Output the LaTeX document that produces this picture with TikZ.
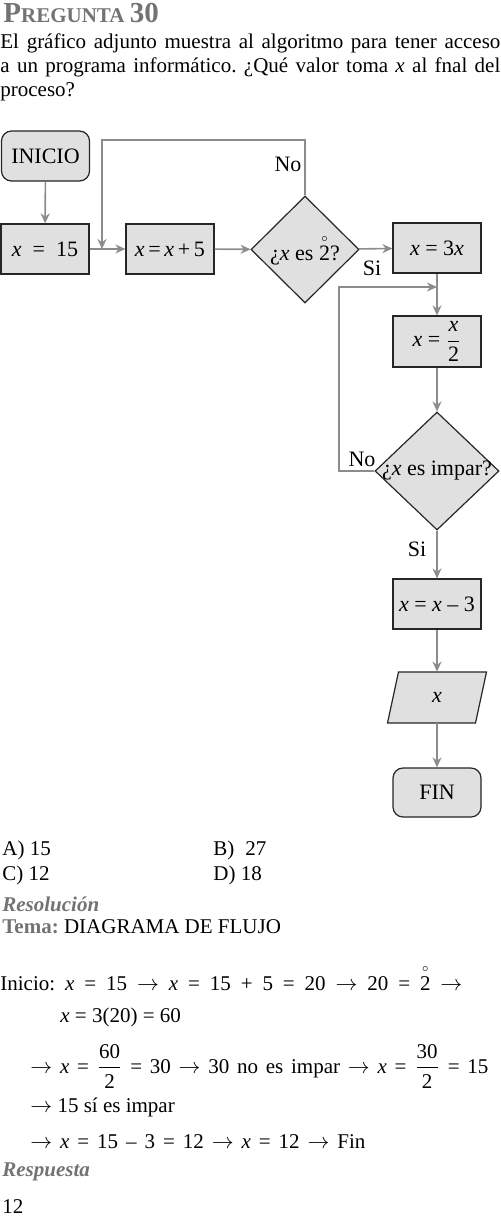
\documentclass[tikz,border=0pt]{standalone}
\usepackage{amsmath}
\usepackage{fontspec}
\setmainfont{Liberation Serif}
\usetikzlibrary{shapes.geometric,arrows.meta,positioning}

\frenchspacing
\newcommand{\vx}{\textit{x}}
\newcommand{\anillo}{$\overset{\scriptscriptstyle\circ}{\text{2}}$}

\tikzset{
  linea/.style={anchor=base west, inner sep=0pt},
  marco/.style={draw=black!85, fill=black!12, line width=0.6pt},
  caja/.style={marco, inner sep=0pt, minimum width=44pt, minimum height=25pt,
    font=\fontsize{11pt}{13pt}\selectfont},
  term/.style={caja, rounded corners=5pt},
  rombo/.style={caja, diamond},
  datos/.style={inner sep=0pt, minimum width=44pt, minimum height=25.5pt,
    font=\fontsize{11pt}{13pt}\selectfont},
  flecha/.style={draw=black!45, line width=0.8pt, -{Stealth[length=5pt,width=4.5pt]}},
  etiq/.style={inner sep=1pt, font=\fontsize{11pt}{13pt}\selectfont},
  gris/.style={text=black!55}
}

\begin{document}
\begin{tikzpicture}[x=0.5pt, y=-0.5pt, font=\fontsize{10.5pt}{12pt}\selectfont]
  \useasboundingbox (0,0) rectangle (500,1222);

  % Enunciado
  \node[linea, gris] (titulo) at (3,22) {\bfseries\fontsize{14.5pt}{16pt}\selectfont P\fontsize{10.5pt}{12pt}\selectfont REGUNTA \fontsize{14.5pt}{16pt}\selectfont 30};
  \node[linea] (enun1) at (0,48) {\makebox[250pt][s]{El gráfico adjunto muestra al algoritmo para tener acceso}};
  \node[linea] (enun2) at (0,72) {\makebox[250pt][s]{a un programa informático. ¿Qué valor toma \vx{} al fnal del}};
  \node[linea] (enun3) at (0,96) {proceso?};

  % Diagrama
  \node[term] (inicio) at (45.5,156) {INICIO};
  \node[caja] (quince) at (45,249) {\vx\enspace=\enspace15};
  \node[caja] (suma) at (170,249) {\vx\,=\,\vx\,+\,5};
  \node[rombo, minimum width=54pt, minimum height=53.5pt] (par) at (305,249.5) {¿\vx{} es \anillo?};
  \node[caja] (triple) at (437,248) {\vx{} = 3\vx};
  \node[caja, minimum height=25.5pt] (mitad) at (437,341.5) {\vx{} = $\dfrac{\text{\vx}}{\text{2}}$};
  \node[rombo, minimum width=62pt, minimum height=59pt] (impar) at (437,471) {\makebox[0pt]{¿\vx{} es impar?}};
  \node[caja] (resta) at (437,604) {\vx{} = \vx{} – 3};
  \filldraw[marco] (387.5,723) -- (398.5,672) -- (486.5,672) -- (475.5,723) -- cycle;
  \node[datos] (salida) at (437,697.5) {\vx};
  \node[term, minimum height=24.5pt] (fin) at (437,792.5) {FIN};

  % Puntos de retorno
  \coordinate (arriba) at (102,140);
  \coordinate (junta) at (102,249);
  \coordinate (vuelta) at (339,287);
  \coordinate (junta2) at (437,287);

  % Flechas
  \draw[flecha] (inicio) -- (quince);
  \draw[flecha] (quince) -- (suma);
  \draw[flecha] (suma) -- (par);
  \draw[flecha] (par) -- (triple);
  \draw[flecha] (par.north) |- (arriba) -- (junta);
  \draw[flecha] (triple) -- (mitad);
  \draw[flecha] (mitad) -- (impar);
  \draw[flecha] (impar.west) -| (vuelta) -- (junta2);
  \draw[flecha] (impar) -- (resta);
  \draw[flecha] (resta) -- (salida);
  \draw[flecha] (salida) -- (fin);

  % Etiquetas
  \node[etiq] (no1) at (288,164) {No};
  \node[etiq] (si1) at (372,268) {Si};
  \node[etiq] (no2) at (362,459) {No};
  \node[etiq] (si2) at (417,549) {Si};

  % Alternativas
  \node[linea] (altA) at (2,855) {A) 15};
  \node[linea] (altB) at (213,855) {B)\; 27};
  \node[linea] (altC) at (2,880) {C) 12};
  \node[linea] (altD) at (213,880) {D) 18};

  % Resolucion
  \node[linea, gris] (resol) at (2,911) {\bfseries\itshape Resolución};
  \node[linea] (tema) at (2,933) {\textcolor{black!55}{\bfseries Tema:} DIAGRAMA DE FLUJO};
  \node[linea] (paso1) at (0,990) {\makebox[231pt][s]{Inicio: \vx{} = 15 $\rightarrow$ \vx{} = 15 + 5 = 20 $\rightarrow$ 20 = \anillo{} $\rightarrow$}};
  \node[linea] (paso2) at (60,1022) {\vx{} = 3(20) = 60};
  \node[linea] (paso3) at (30,1073) {\makebox[229pt][s]{$\rightarrow$ \vx{} = $\dfrac{\text{60}}{\text{2}}$ = 30 $\rightarrow$ 30 no es impar $\rightarrow$ \vx{} = $\dfrac{\text{30}}{\text{2}}$ = 15}};
  \node[linea] (paso4) at (30,1112) {$\rightarrow$ 15 sí es impar};
  \node[linea] (paso5) at (30,1148) {\makebox[167.5pt][s]{$\rightarrow$ \vx{} = 15 – 3 = 12 $\rightarrow$ \vx{} = 12 $\rightarrow$ Fin}};
  \node[linea, gris] (resp) at (2,1176) {\bfseries\itshape Respuesta};
  \node[linea] (final) at (2,1213) {12};

\end{tikzpicture}
\end{document}
